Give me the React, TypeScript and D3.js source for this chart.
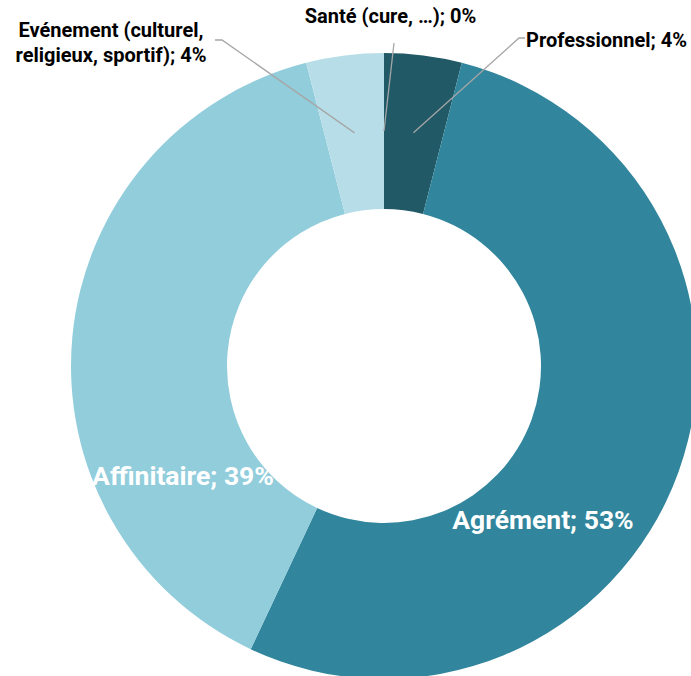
import React from "react";
import * as d3 from "d3";

const categories = ["Santé (cure, …)", "Professionnel", "Agrément", "Affinitaire", "Evénement (culturel, religieux, sportif)"];
const values = [0, 4, 53, 39, 4];
const percentLabels = ["0%", "4%", "53%", "39%", "4%"];
const colors = ["#1d4f5c", "#215967", "#31859c", "#92cddc", "#b7dee8"];

const W = 691;
const H = 676;
const cx = 384;
const cy = 366;
const outerR = 313;
const innerR = 157;
const midR = (outerR + innerR) / 2;

const FONT = "Roboto, 'Liberation Sans', sans-serif";

export default function App() {
  const pie = d3.pie<number>().sort(null).value((d) => d);
  const arcs = pie(values);
  const arcGen = d3.arc<d3.PieArcDatum<number>>().innerRadius(innerR).outerRadius(outerR);
  const midPoint = (a: d3.PieArcDatum<number>) => {
    const ang = (a.startAngle + a.endAngle) / 2;
    return [cx + midR * Math.sin(ang), cy - midR * Math.cos(ang)];
  };
  const sante = midPoint(arcs[0]);
  const prof = midPoint(arcs[1]);
  const even = midPoint(arcs[4]);
  const leader = "#a6a6a6";

  return (
    <svg width={W} height={H} style={{ position: "absolute", left: 0, top: 0, background: "#fff" }}>
      <g transform={`translate(${cx},${cy})`}>
        {arcs.map((a, i) => (
          <path key={i} d={arcGen(a) || ""} fill={colors[i]} />
        ))}
      </g>
      <g fill="none" stroke={leader} strokeWidth={1.3}>
        <polyline points={`${sante[0]},${sante[1]} 394,43`} />
        <polyline points={`${prof[0]},${prof[1]} 519,38 525,38`} />
        <polyline points={`${even[0]},${even[1]} 222,40 215,40`} />
      </g>
      <g fontFamily={FONT} fontWeight={700} fill="#000" fontSize={20}>
        <text x={390.5} y={23} textAnchor="middle">{`${categories[0]}; ${percentLabels[0]}`}</text>
        <text x={526} y={47} textAnchor="start">{`${categories[1]}; ${percentLabels[1]}`}</text>
        <text x={111} y={37} textAnchor="middle">Evénement (culturel,</text>
        <text x={111} y={62} textAnchor="middle">{`religieux, sportif); ${percentLabels[4]}`}</text>
      </g>
      <g fontFamily={FONT} fontWeight={700} fill="#fff" fontSize={26.5}>
        <text x={183} y={485} textAnchor="middle">{`${categories[3]}; ${percentLabels[3]}`}</text>
        <text x={543} y={529} textAnchor="middle">{`${categories[2]}; ${percentLabels[2]}`}</text>
      </g>
    </svg>
  );
}
